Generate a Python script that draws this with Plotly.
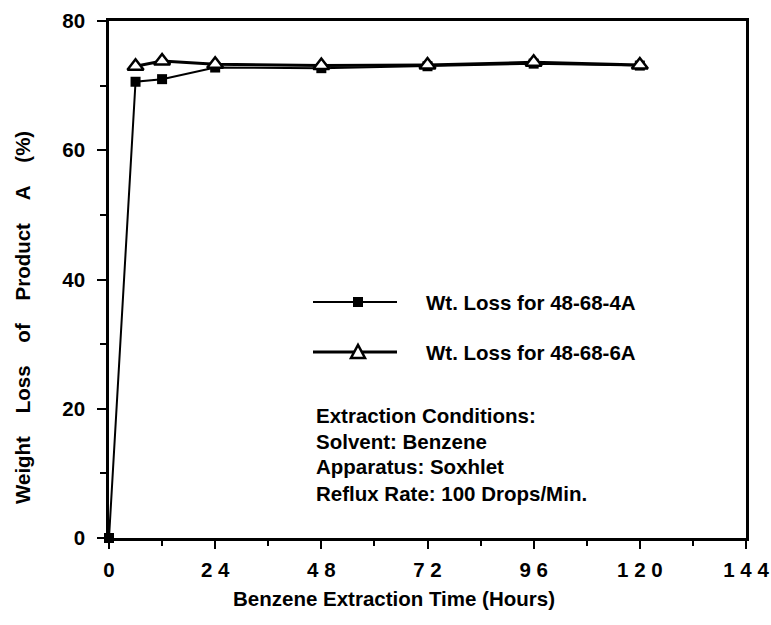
import plotly.graph_objects as go

# Extraction time (hours) and weight loss (%) for the two products
hours_4a = [0, 6, 12, 24, 48, 72, 96, 120]
loss_4a = [0, 70.6, 71.0, 72.8, 72.7, 73.0, 73.4, 73.1]

hours_6a = [6, 12, 24, 48, 72, 96, 120]
loss_6a = [73.0, 73.8, 73.3, 73.1, 73.2, 73.6, 73.2]

x_tick_vals = [0, 24, 48, 72, 96, 120, 144]
x_tick_text = ["0", "2\u00a04", "4\u00a08", "7\u00a02", "9\u00a06", "1\u00a02\u00a00", "1\u00a04\u00a04"]
y_tick_vals = [0, 20, 40, 60, 80]

series_names = ["Wt. Loss for 48-68-4A", "Wt. Loss for 48-68-6A"]
conditions = [
    "Extraction Conditions:",
    "Solvent: Benzene",
    "Apparatus: Soxhlet",
    "Reflux Rate: 100 Drops/Min.",
]
x_title = "Benzene Extraction Time (Hours)"
y_title = ("\u00a0" * 4).join(["Weight", "Loss", "of", "Product", "A", "(%)"])

FONT = "Liberation Sans, Arial, sans-serif"
FS = 20.5
TXT = dict(family=FONT, size=FS, color="black", weight="bold")

# plot area in pixels
W, H = 771, 625
L, R, T, B = 109, 25, 21, 87
PW, PH = W - L - R, H - T - B


def px(xp):
    return (xp - L) / PW


def py(yp):
    return (T + PH - yp) / PH


fig = go.Figure()
fig.add_trace(go.Scatter(
    x=hours_4a, y=loss_4a, mode="lines+markers", name=series_names[0],
    line=dict(color="black", width=2),
    marker=dict(symbol="square", size=10, color="black"),
    cliponaxis=False, showlegend=False,
))
fig.add_trace(go.Scatter(
    x=hours_6a, y=loss_6a, mode="lines+markers", name=series_names[1],
    line=dict(color="black", width=3),
    marker=dict(symbol="triangle-up", size=14, color="white",
                line=dict(color="black", width=2.5)),
    cliponaxis=False, showlegend=False,
))

# hand-drawn key
shapes = []
annotations = []
key_rows = [302, 352]
for i, yk in enumerate(key_rows):
    shapes.append(dict(type="line", xref="paper", yref="paper",
                       x0=px(313), x1=px(397), y0=py(yk), y1=py(yk),
                       line=dict(color="black", width=2 if i == 0 else 3)))
    annotations.append(dict(text=series_names[i], xref="paper", yref="paper",
                            x=px(424), y=py(yk), xanchor="left", yanchor="middle",
                            showarrow=False, font=TXT))
shapes.append(dict(type="rect", xref="paper", yref="paper",
                   xsizemode="pixel", ysizemode="pixel",
                   xanchor=px(358), yanchor=py(key_rows[0]),
                   x0=-5, x1=5, y0=-5, y1=5,
                   fillcolor="black", line=dict(width=0)))
shapes.append(dict(type="path", xref="paper", yref="paper",
                   xsizemode="pixel", ysizemode="pixel",
                   xanchor=px(358), yanchor=py(key_rows[1]),
                   path="M -7 -6 L 7 -6 L 0 7 Z",
                   fillcolor="white", line=dict(color="black", width=2.5)))

for i, line in enumerate(conditions):
    annotations.append(dict(text=line, xref="paper", yref="paper",
                            x=px(314), y=py(415 + 26 * i), xanchor="left", yanchor="middle",
                            showarrow=False, font=TXT))

# axis titles
annotations.append(dict(text=x_title, xref="paper", yref="paper",
                        x=px(394), y=py(598), xanchor="center", yanchor="middle",
                        showarrow=False, font=TXT))
annotations.append(dict(text=y_title, xref="paper", yref="paper", textangle=-90,
                        x=px(22), y=py(318), xanchor="center", yanchor="middle",
                        showarrow=False, font=TXT))

axis_common = dict(
    showgrid=False, zeroline=False, showline=True, linecolor="black", linewidth=2.5,
    mirror=True, ticks="outside", tickcolor="black", tickwidth=2,
    tickfont=TXT,
)

fig.update_xaxes(
    range=[0, 144], tickmode="array", tickvals=x_tick_vals, ticktext=x_tick_text,
    ticklen=8, ticklabelstandoff=4,
    minor=dict(dtick=12, tick0=0, ticks="outside", ticklen=5, tickcolor="black", tickwidth=2),
    **axis_common,
)
fig.update_yaxes(
    range=[0, 80], tickmode="array", tickvals=y_tick_vals,
    ticklen=9, ticklabelstandoff=8,
    minor=dict(dtick=10, tick0=0, ticks="outside", ticklen=6, tickcolor="black", tickwidth=2),
    **axis_common,
)

fig.update_layout(
    width=W, height=H,
    margin=dict(l=L, r=R, t=T, b=B, autoexpand=False),
    paper_bgcolor="white", plot_bgcolor="white",
    shapes=shapes, annotations=annotations,
    font=TXT,
)

fig.write_html("out.html")
